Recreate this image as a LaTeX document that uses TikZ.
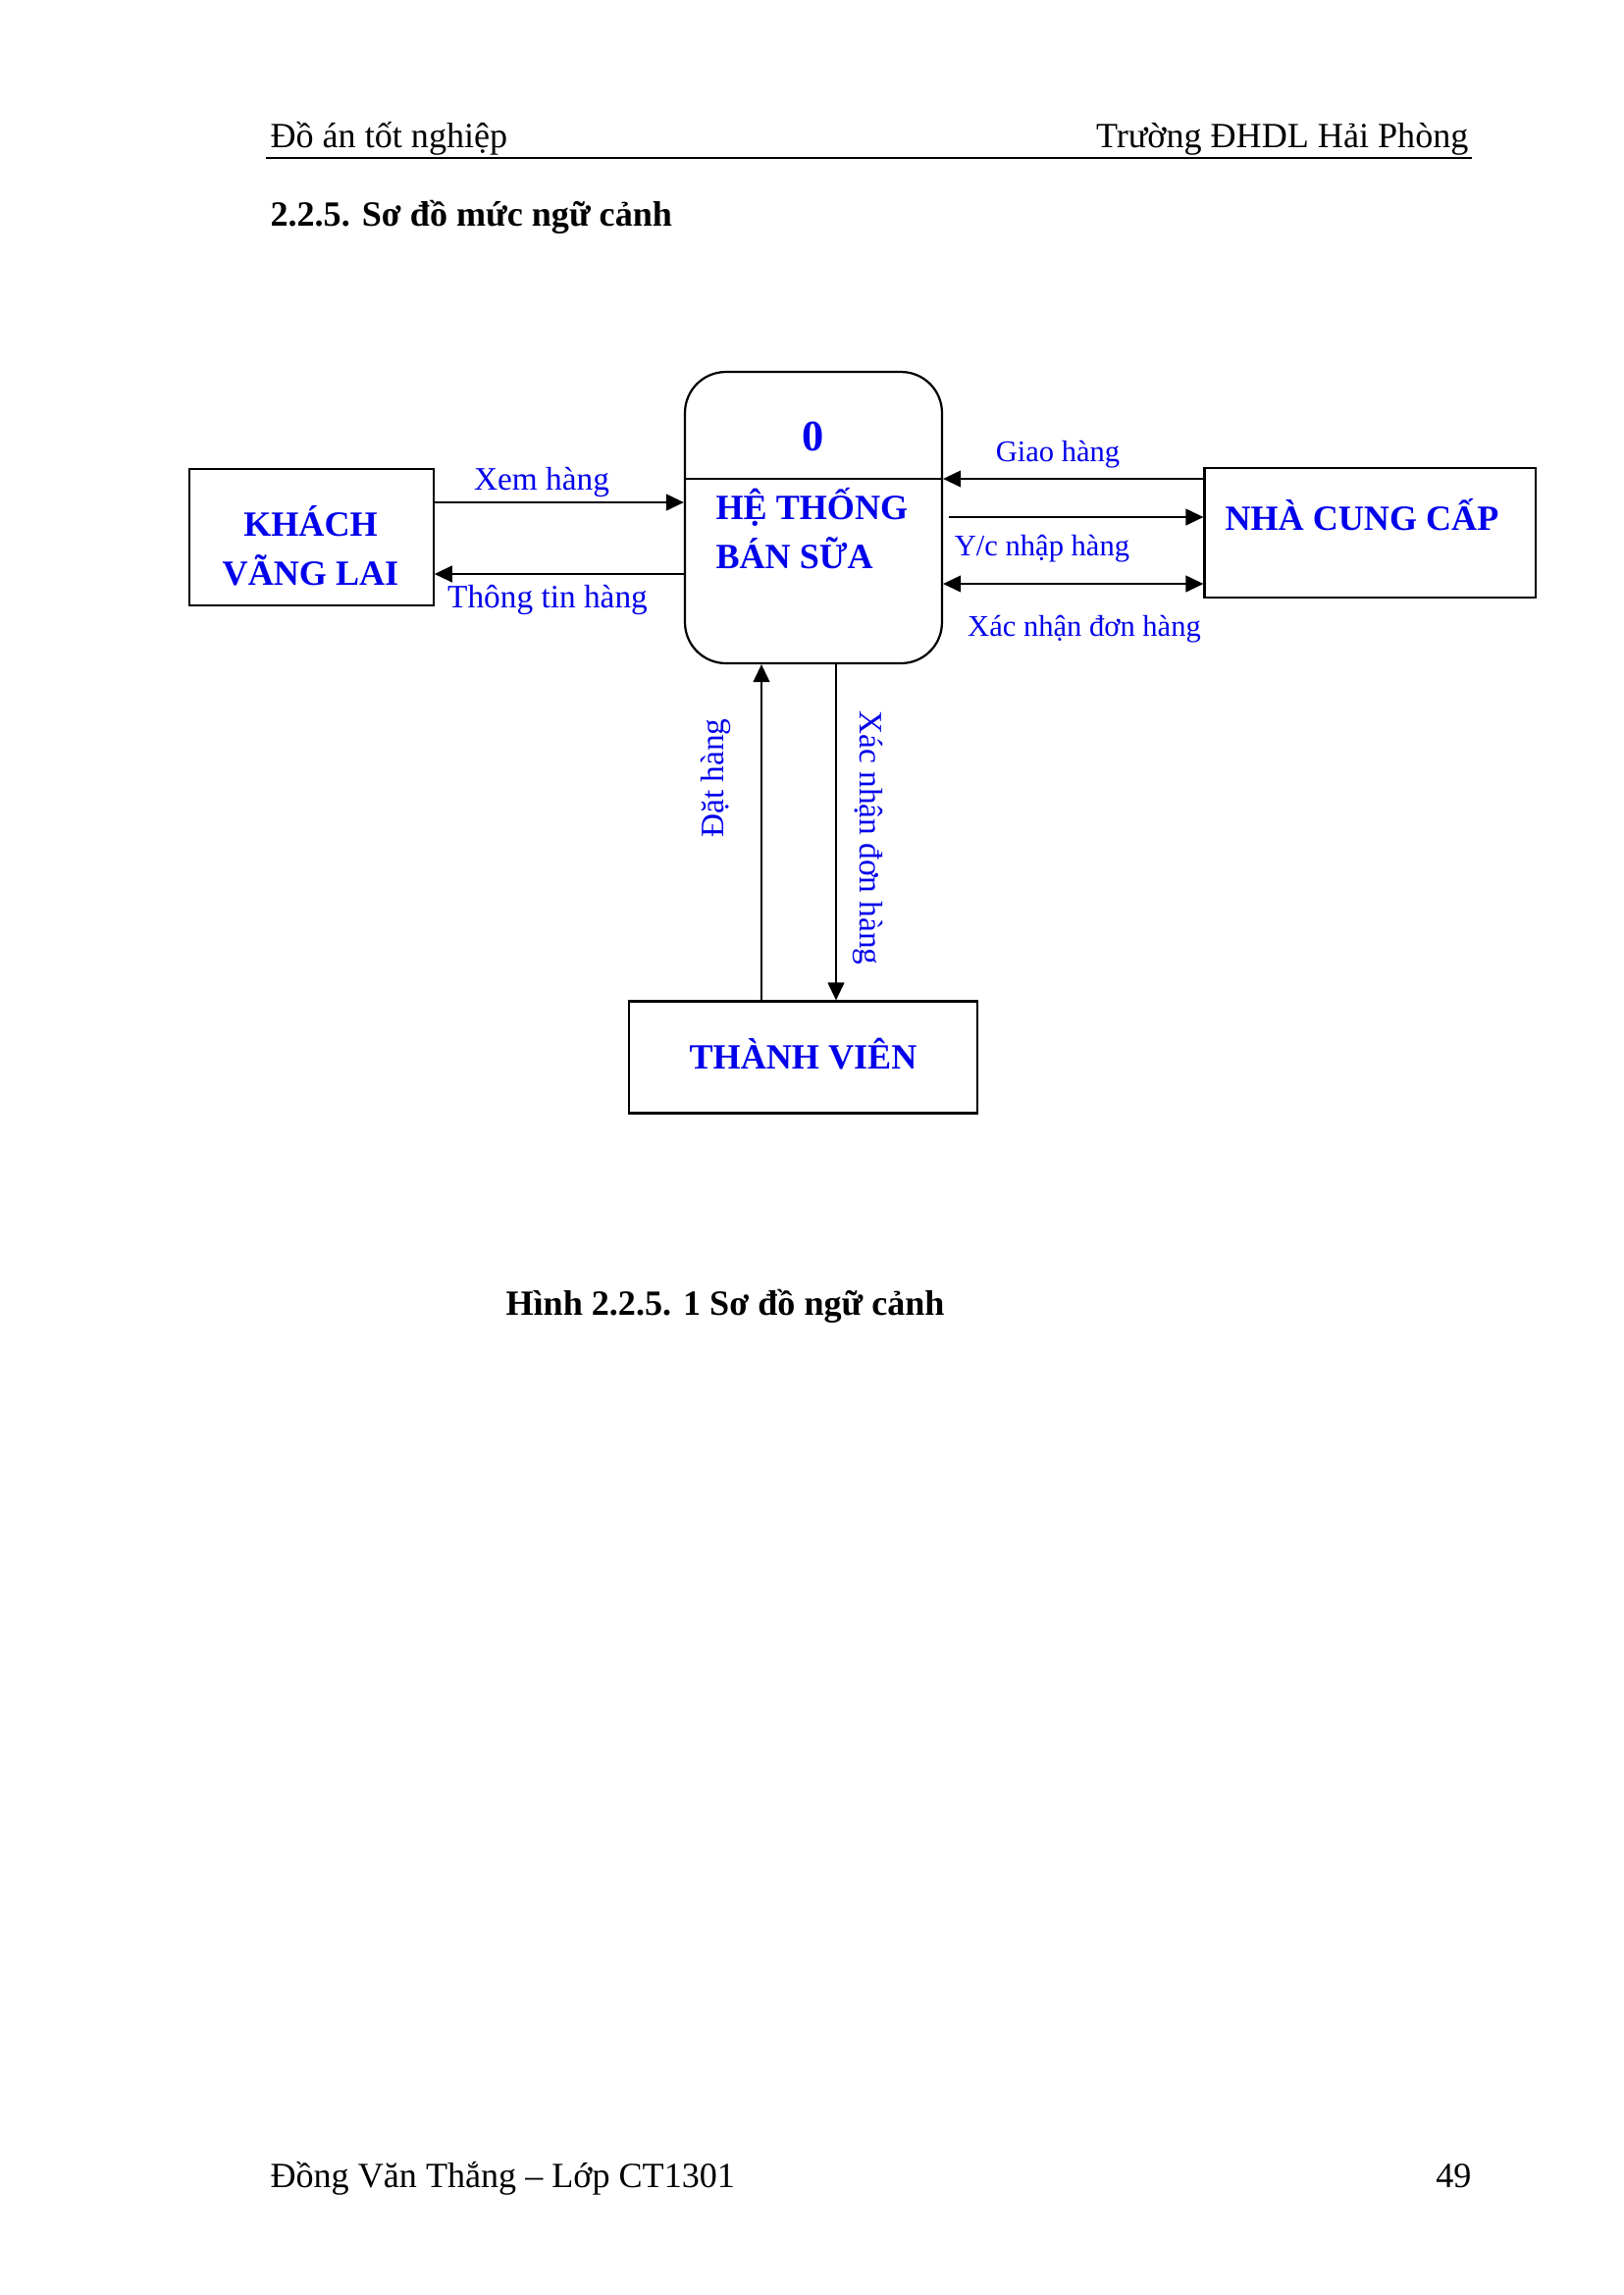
\documentclass[tikz,border=0pt]{standalone}
\usepackage{fontspec}
\setmainfont{Liberation Serif}
\usetikzlibrary{arrows.meta}
\definecolor{dfdblue}{RGB}{0,0,235}
\begin{document}
\begin{tikzpicture}[x=0.36pt,y=-0.36pt,
  entity/.style={draw,line width=0.8pt,inner sep=0pt},
  procbox/.style={draw,line width=0.8pt,inner sep=0pt,rounded corners=15pt},
  flow/.style={line width=0.8pt,-{Triangle[length=6.5pt,width=6pt]}},
  bothflow/.style={line width=0.8pt,{Triangle[length=6.5pt,width=6pt]}-{Triangle[length=6.5pt,width=6pt]}},
  lbl/.style={text=dfdblue,inner sep=0pt,font=\fontsize{12pt}{14pt}\selectfont},
  lbls/.style={text=dfdblue,inner sep=0pt,font=\fontsize{11pt}{13pt}\selectfont},
  ent/.style={text=dfdblue,inner sep=0pt,font=\fontsize{13pt}{18pt}\selectfont\bfseries},
  page/.style={inner sep=0pt,font=\fontsize{13pt}{16pt}\selectfont},
  pagebold/.style={inner sep=0pt,font=\fontsize{13pt}{16pt}\selectfont\bfseries}]
\useasboundingbox[fill=white] (0,0) rectangle (1654,2339);

% header
\node[page,anchor=base west] (hl) at (275,150) {Đồ án tốt nghiệp};
\node[page,anchor=base east] (hr) at (1497,150) {Trường ĐHDL Hải Phòng};
\draw[line width=0.5pt] (271,161) -- (1500,161);
\node[pagebold,anchor=base west] (title) at (275,230) {2.2.5. Sơ đồ mức ngữ cảnh};

% boxes
\node[entity,minimum width=89.6pt,minimum height=49.8pt] (khach) at (317.2,547.5) {};
\node[ent,align=center] (khacht) at (316.5,556) {KHÁCH\\VÃNG LAI};

\node[procbox,minimum width=94.3pt,minimum height=106.9pt] (proc) at (829,527.5) {};
\draw[line width=0.8pt] (proc.west |- 0,487.7) -- (proc.east |- 0,487.7);
\node[text=dfdblue,inner sep=0pt,font=\fontsize{16pt}{18pt}\selectfont\bfseries,anchor=base] (zero) at (828.5,459) {0};
\node[ent,align=left,anchor=west] (proct) at (729,539) {HỆ THỐNG\\BÁN SỮA};

\node[entity,minimum width=121.5pt,minimum height=47.5pt] (ncc) at (1396.3,543.3) {};
\node[ent,anchor=base west] (ncct) at (1248,540) {NHÀ CUNG CẤP};

\node[entity,minimum width=127.8pt,minimum height=41pt] (tv) at (818.5,1077.5) {};
\node[ent,anchor=base] (tvt) at (818.5,1089) {THÀNH VIÊN};

% flows khach
\draw[flow] (khach.east |- 0,512) -- (proc.west |- 0,512);
\node[lbl,anchor=base] (l1) at (552,499) {Xem hàng};
\draw[flow] (proc.west |- 0,585) -- (khach.east |- 0,585);
\node[lbl,anchor=base] (l2) at (558,619) {Thông tin hàng};

% flows ncc
\draw[flow] (ncc.west |- 0,488) -- (proc.east |- 0,488);
\node[lbls,anchor=base] (l3) at (1078,470) {Giao hàng};
\draw[flow] ([xshift=2pt]proc.east |- 0,527) -- (ncc.west |- 0,527);
\node[lbls,anchor=base] (l4) at (1062,566) {Y/c nhập hàng};
\draw[bothflow] (proc.east |- 0,595) -- (ncc.west |- 0,595);
\node[lbls,anchor=base] (l5) at (1105,648) {Xác nhận đơn hàng};

% flows thanh vien
\draw[flow] (tv.north -| 776,0) -- (proc.south -| 776,0);
\node[lbl,anchor=base,rotate=90] (l6) at (737,793) {Đặt hàng};
\draw[flow] (proc.south -| 852,0) -- (tv.north -| 852,0);
\node[lbl,anchor=base,rotate=-90] (l7) at (876,854) {Xác nhận đơn hàng};

% caption and footer
\node[pagebold,anchor=base west] (cap) at (515,1340) {Hình 2.2.5. 1 Sơ đồ ngữ cảnh};
\node[page,anchor=base west] (fl) at (275,2229) {Đồng Văn Thắng – Lớp CT1301};
\node[page,anchor=base east] (fr) at (1500,2229) {49};
\end{tikzpicture}
\end{document}
